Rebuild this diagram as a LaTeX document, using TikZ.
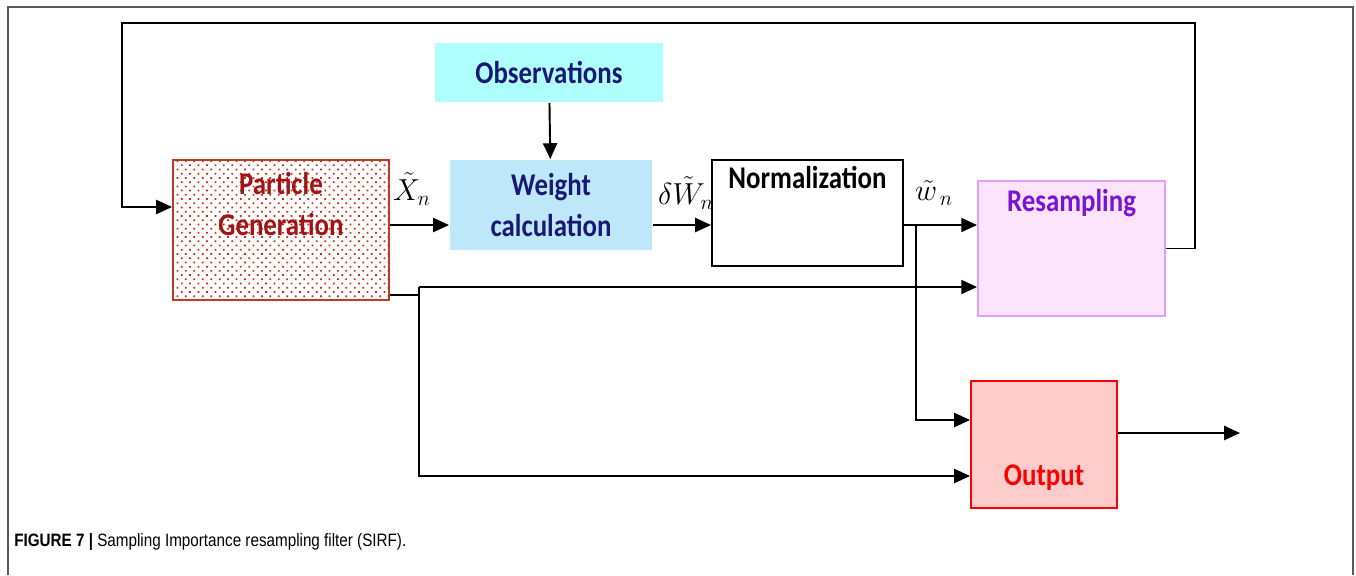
\documentclass[tikz,border=0pt]{standalone}
\usepackage{fontspec}
\usepackage{graphicx}
\usetikzlibrary{arrows.meta,patterns.meta}
\newfontfamily\boxfont{Carlito}
\newfontfamily\capfont{Liberation Sans}
\definecolor{genline}{RGB}{190,60,30}
\definecolor{gendot}{RGB}{205,40,25}
\definecolor{gentext}{RGB}{160,20,20}
\definecolor{obsfill}{RGB}{176,255,255}
\definecolor{wfill}{RGB}{190,232,250}
\definecolor{navy}{RGB}{25,25,115}
\definecolor{resfill}{RGB}{252,228,252}
\definecolor{resline}{RGB}{224,160,248}
\definecolor{restext}{RGB}{120,20,210}
\definecolor{outfill}{RGB}{255,204,204}
\newcommand{\narrow}[1]{\scalebox{0.85}[1]{#1}}
\begin{document}
\begin{tikzpicture}[x=0.02cm,y=-0.02cm,
    block/.style={draw,line width=1.1pt,inner sep=0pt},
    txt/.style={font=\boxfont\bfseries\fontsize{18}{23}\selectfont,align=center,inner sep=0pt},
    mth/.style={font=\fontsize{17}{20}\selectfont,inner sep=0pt},
    flow/.style={line width=1.1pt,-{Triangle[length=9pt,width=8pt]}}
  ]
  \useasboundingbox (0,0) rectangle (1356,575);
  % page frame
  \draw[gray!70!black,line width=1pt] (8,575) -- (8,7) -- (1353,7) -- (1353,575);

  % blocks
  \node[block,draw=genline,fill=white,minimum width=4.32cm,minimum height=2.8cm,
        postaction={pattern={Dots[angle=45,distance=3.4pt,radius=0.7pt]},pattern color=gendot},
        label={[txt,text=gentext,yshift=14.7pt]center:\narrow{Particle}\\\narrow{Generation}}]
        (gen) at (281,230) {};
  \node[block,draw=none,fill=obsfill,minimum width=4.56cm,minimum height=1.18cm,txt,text=navy]
        (obs) at (549,72.5) {\narrow{Observations}};
  \node[block,draw=none,fill=wfill,minimum width=4.04cm,minimum height=1.8cm,txt,text=navy]
        (weight) at (551,205) {\narrow{Weight}\\\narrow{calculation}};
  \node[block,fill=white,minimum width=3.82cm,minimum height=2.12cm,
        label={[txt,anchor=base,yshift=-17pt]north:\narrow{Normalization}}]
        (norm) at (807.5,213) {};
  \node[block,draw=resline,fill=resfill,minimum width=3.74cm,minimum height=2.7cm,
        label={[txt,text=restext,anchor=base,yshift=-18pt]north:\narrow{Resampling}}]
        (resamp) at (1071.5,248.5) {};
  \node[block,draw=red,fill=outfill,minimum width=2.92cm,minimum height=2.54cm,
        label={[txt,text=red,anchor=base,yshift=13.6pt]south:\narrow{Output}}]
        (output) at (1044,444.5) {};

  % signal labels
  \node[mth] (xn) at (412,189) {$\tilde{X}_{n}$};
  \node[mth] (dwn) at (686,193) {$\delta\tilde{W}_{n}$};
  \node[mth] (wn) at (934,193) {$\tilde{w}_{\,n}$};

  % helper points
  \coordinate (fbtop) at (1195,23);
  \coordinate (fbleft) at (122,23);
  \coordinate (split) at (916,225);
  \coordinate (tap) at (419,287);
  \coordinate (out) at (1240,433);

  % connectors
  \draw[flow] (obs) -- (weight);
  \draw[flow] (gen.east |- 0,225) -- (weight.west |- 0,225);
  \draw[flow] (weight.east |- 0,225) -- (norm.west |- 0,225);
  \draw[flow] (norm.east |- 0,225) -- (resamp.west |- 0,225);
  \draw[flow] (split) |- (output.west |- 0,420);
  \draw[line width=1.1pt] (gen.east |- 0,295) -| (tap);
  \draw[flow] (tap) -- (resamp.west |- tap);
  \draw[flow] (tap) |- (output.west |- 0,476);
  \draw[flow] (output.east |- out) -- (out);
  \draw[flow] (resamp.east) -| (fbtop) -- (fbleft) |- (gen.west |- 0,207);

  % caption
  \node[anchor=base west,inner sep=0pt,font=\capfont\fontsize{10.2}{12}\selectfont] (cap) at (14,546)
       {\narrow{\textbf{FIGURE 7 |} Sampling Importance resampling filter (SIRF).}};
\end{tikzpicture}
\end{document}
